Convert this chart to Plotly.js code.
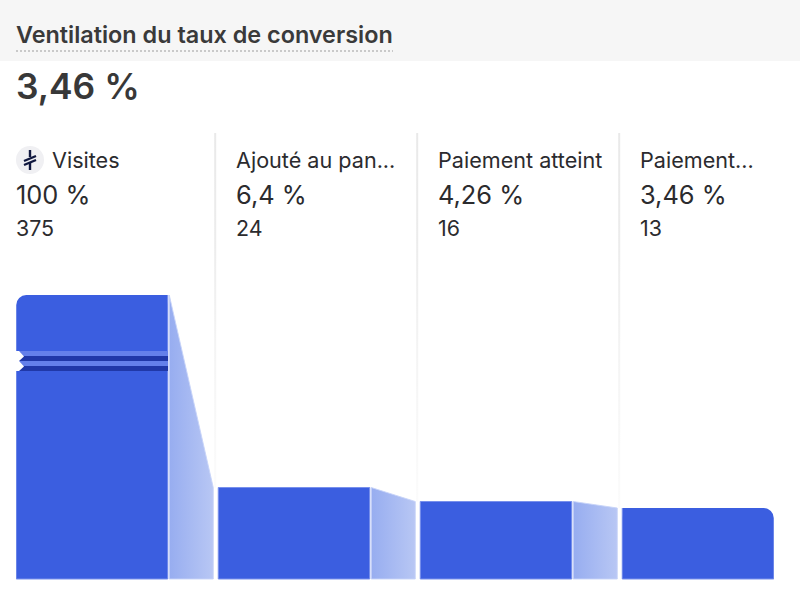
<!DOCTYPE html>
<html><head><meta charset="utf-8">
<script src="https://cdn.plot.ly/plotly-3.0.1.min.js"></script>
<style>html,body{margin:0;padding:0;background:#fff}#c{width:800px;height:600px}</style>
</head><body><div id="c"></div>
<script>
const titleText = "Ventilation du taux de conversion";
const headlineValue = "3,46 %";
const stages = ["Visites", "Ajouté au pan...", "Paiement atteint", "Paiement..."];
const rates = ["100 %", "6,4 %", "4,26 %", "3,46 %"];
const counts = ["375", "24", "16", "13"];
// Bar heights as drawn (the first bar is cut by an axis break), in picture units
const barHeights = [284, 91.5, 77.5, 71];
const stageIndex = [0, 1, 2, 3];

const BLUE = "#3b5ee0", EDGE = "#7890ec";
const W = 800, H = 600;
// x axis: one unit = one stage (202 px). y axis: 1 unit = 1 px above baseline 579.
const xRange = [-(16 + 76) / 202, (800 - 92) / 202];
const yRange = [-(600 - 579), 579];
const barW = 151.5 / 202, half = barW / 2;
const px = p => (p - 92) / 202;          // page px -> x units
const py = p => 579 - p;                 // page px -> y units

const traces = [];
// dividers, fading towards the bars
stageIndex.slice(1).forEach(i => {
  const c = i - 1 + px(215.2), a = c - 1 / 202, b = c + 1 / 202, top = py(133), bot = barHeights[i];
  traces.push({
    type: "scatter", mode: "lines", x: [a, b, b, a, a], y: [bot, bot, top, top, bot],
    fill: "toself", line: { width: 0, color: "rgba(0,0,0,0)" },
    fillgradient: { type: "vertical", colorscale: [[0, "#fbfbfb"], [0.4, "#f4f4f4"], [0.7, "#ececec"], [1, "#e9e9e9"]] },
    hoverinfo: "skip", showlegend: false
  });
});
// connectors
stageIndex.slice(0, -1).forEach(i => {
  const x0 = i + half + 1.5 / 202, x1 = i + 1 - half - 5 / 202;
  traces.push({
    type: "scatter", mode: "lines", x: [x0, x1, x1, x0, x0],
    y: [barHeights[i], barHeights[i + 1], 0, 0, barHeights[i]],
    fill: "toself", line: { color: "rgba(200,212,248,0.9)", width: 1 },
    fillgradient: { type: "horizontal", colorscale: [[0, "#97adf0"], [1, "#b8c7f4"]] },
    hoverinfo: "skip", showlegend: false
  });
});
// square parts (inner half of the end bars)
traces.push({
  type: "bar", x: stageIndex, y: barHeights,
  width: [half, barW, barW, half], offset: [0, -half, -half, -half],
  marker: { color: BLUE, line: { width: [0, 1, 1, 0], color: EDGE } }, hoverinfo: "skip", showlegend: false
});
// rounded end bars
traces.push({
  type: "bar", x: [stageIndex[0], stageIndex[3]], y: [barHeights[0], barHeights[3]],
  width: barW, marker: { color: BLUE, cornerradius: 10, line: { width: 0 } },
  hoverinfo: "skip", showlegend: false
});
// thin light edge along the end bars
[[0, 1], [3, -1]].forEach(([i, s]) => {
  const xo = i + s * half;
  traces.push({
    type: "scatter", mode: "lines", x: [i - s * half, xo, xo], y: [0, 0, barHeights[i]],
    line: { color: EDGE, width: 1 }, hoverinfo: "skip", showlegend: false
  });
});

const shapes = [];
shapes.push({ type: "rect", xref: "paper", yref: "paper", x0: 0, x1: 1, y0: 1 - 61 / H, y1: 1, fillcolor: "#f6f6f6", line: { width: 0 }, layer: "below" });
shapes.push({ type: "line", xref: "paper", yref: "paper", x0: 16 / W, x1: 393 / W, y0: 1 - 51 / H, y1: 1 - 51 / H, line: { color: "#c9c9c9", width: 2, dash: "2px 2px" } });
// axis break
const rect = (a, b, c) => ({ type: "rect", xref: "x", yref: "y", x0: px(16), x1: px(168), y0: py(b), y1: py(a), fillcolor: c, line: { width: 0 } });
shapes.push(rect(351, 356, "#6480ea"), rect(356, 361, "#2038a8"), rect(361, 366, "#6480ea"), rect(366, 371, "#2038a8"));
[351, 361].forEach(t => shapes.push({
  type: "path", xref: "x", yref: "y", fillcolor: "#fff", line: { width: 0 },
  path: `M${px(15)},${py(t)} L${px(19)},${py(t)} L${px(24)},${py(t + 5.5)} L${px(19)},${py(t + 10)} L${px(15)},${py(t + 10)} Z`
}));
// icon
shapes.push({ type: "circle", xref: "paper", yref: "paper", x0: 16 / W, x1: 44 / W, y0: 1 - 174 / H, y1: 1 - 146 / H, fillcolor: "#f0f0f3", line: { width: 0 } });
const seg = (a, b, c, d, w) => ({ type: "line", xref: "paper", yref: "paper", x0: a / W, y0: 1 - b / H, x1: c / W, y1: 1 - d / H, line: { color: "#10183f", width: w || 2.4 } });
shapes.push(seg(30, 150, 30, 157), seg(30, 163, 30, 170), seg(24, 161, 36, 156), seg(24, 165, 36, 160));

const ann = (x, y, text, size, color, weight) => ({
  xref: "paper", yref: "paper", x: x / W, y: 1 - y / H, xanchor: "left", yanchor: "middle",
  text, showarrow: false, borderpad: 0, borderwidth: 0,
  font: { family: "Inter, sans-serif", size, color, weight: weight || 400 }
});
const annotations = [
  ann(16, 34.4, titleText, 23.4, "#3a3a3a", 600),
  ann(16, 86.4, headlineValue, 35.4, "#383838", 600)
];
const tx = [52, 236, 438, 640], nx = [16, 236, 438, 640];
stages.forEach((s, i) => {
  annotations.push(ann(tx[i], 160, s, 21.6, "#2b2b2e"));
  annotations.push(ann(nx[i], 195, rates[i], 25.4, "#2b2b2e"));
  annotations.push(ann(nx[i], 228, counts[i], 21.4, "#2b2b2e"));
});

Plotly.newPlot("c", traces, {
  width: W, height: H, margin: { l: 0, r: 0, t: 0, b: 0 },
  paper_bgcolor: "#fff", plot_bgcolor: "rgba(0,0,0,0)",
  barmode: "overlay", showlegend: false,
  xaxis: { range: xRange, visible: false, fixedrange: true },
  yaxis: { range: yRange, visible: false, fixedrange: true },
  shapes, annotations
}, { displayModeBar: false, staticPlot: true });
</script></body></html>
